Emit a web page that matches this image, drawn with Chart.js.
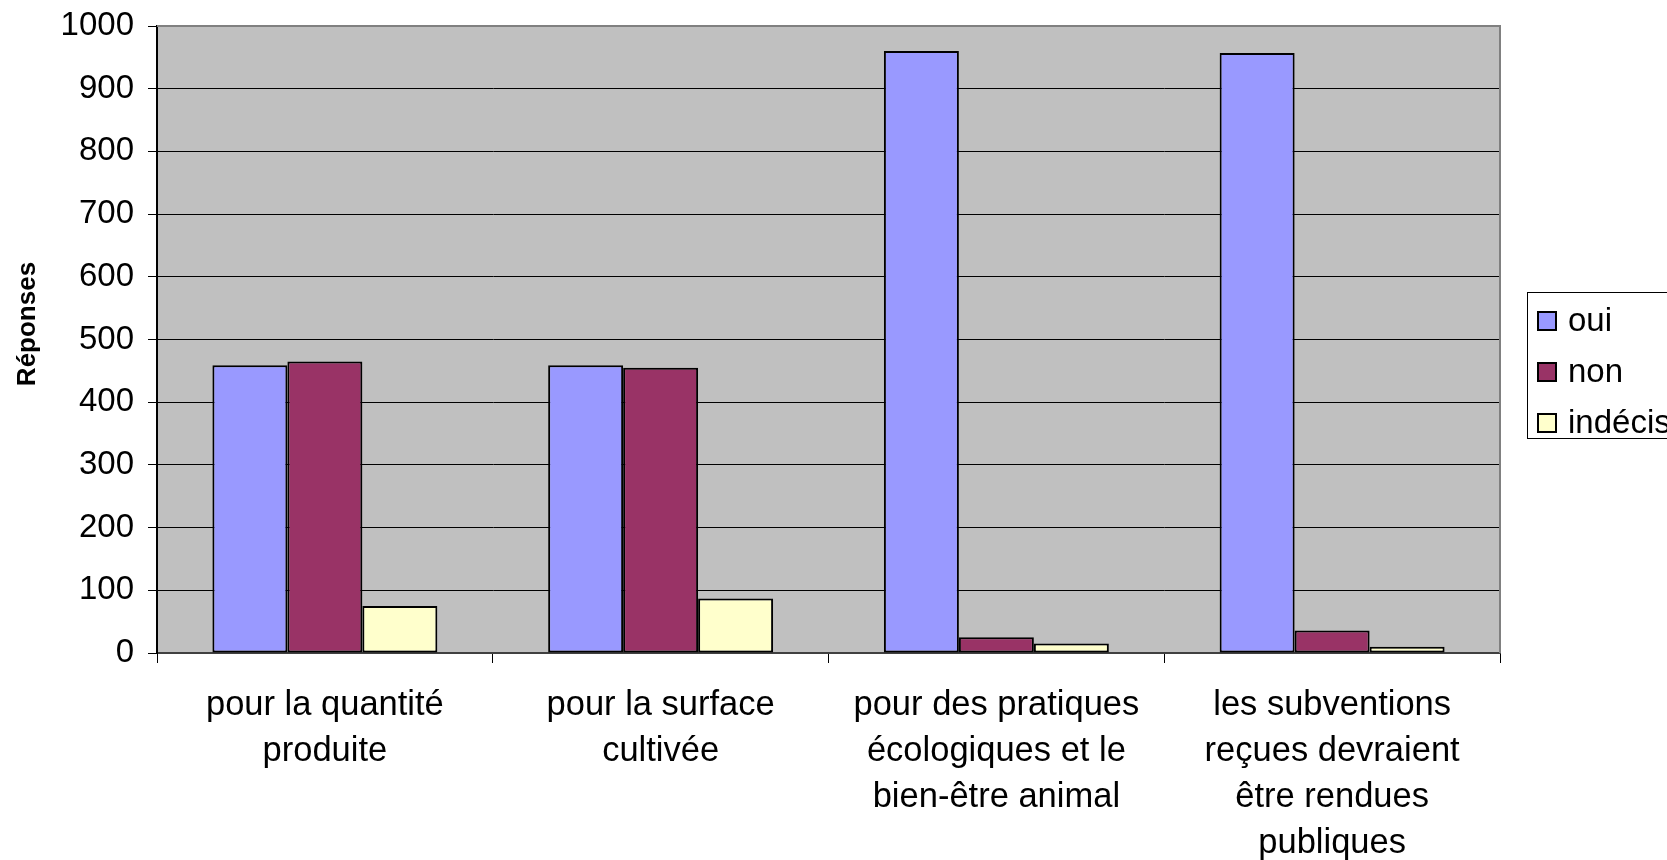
<!DOCTYPE html>
<html>
<head>
<meta charset="utf-8">
<script src="https://cdn.jsdelivr.net/npm/chart.js@4/dist/chart.umd.min.js"></script>
<style>
  html, body { margin: 0; padding: 0; background: #fff; }
  #wrap { width: 1667px; height: 860px; }
</style>
</head>
<body>
<div id="wrap"><canvas id="chart" width="1667" height="860"></canvas></div>
<script>
var categories = [
    ["pour la quantité", "produite"],
    ["pour la surface", "cultivée"],
    ["pour des pratiques", "écologiques et le", "bien-être animal"],
    ["les subventions", "reçues devraient", "être rendues", "publiques"]
];
var oui = [459, 459, 960, 957];
var non = [465, 455, 25, 36];
var indecis = [75, 87, 15, 10];
var yTicks = [0, 100, 200, 300, 400, 500, 600, 700, 800, 900, 1000];
var yTitle = 'Réponses';

var FONT = "'Liberation Sans', Arial, sans-serif";

// grey plot background + grey top/right frame like the original
var plotArea = {
    id: 'plotArea',
    beforeDraw: function (chart) {
        var a = chart.chartArea, c = chart.ctx;
        c.save();
        c.fillStyle = '#c0c0c0';
        c.fillRect(a.left, a.top, a.right - a.left, a.bottom - a.top);
        c.restore();
    },
    afterDatasetsDraw: function (chart) {
        var a = chart.chartArea, c = chart.ctx;
        c.save();
        c.strokeStyle = '#808080';
        c.lineWidth = 2;
        c.beginPath();
        c.moveTo(a.left, a.top);
        c.lineTo(a.right, a.top);
        c.lineTo(a.right, a.bottom);
        c.stroke();
        c.restore();
    }
};

// y title sits a bit above the middle of the plot in the original
var sideTitle = {
    id: 'sideTitle',
    afterDraw: function (chart) {
        var c = chart.ctx;
        c.save();
        c.translate(28, 324);
        c.rotate(-Math.PI / 2);
        c.font = 'bold 26px ' + FONT;
        c.textAlign = 'center';
        c.textBaseline = 'middle';
        c.fillStyle = '#000';
        c.fillText(yTitle, 0, 0);
        c.restore();
    }
};

// boxed legend on the right, partly cut off by the canvas edge
var boxLegend = {
    id: 'boxLegend',
    afterDraw: function (chart) {
        var c = chart.ctx;
        var x = 1527.5, y = 292.5, w = 170, h = 146;
        c.save();
        c.strokeStyle = '#000';
        c.lineWidth = 1;
        c.strokeRect(x, y, w, h);
        c.font = '33px ' + FONT;
        c.textBaseline = 'middle';
        chart.data.datasets.forEach(function (ds, i) {
            var cy = 321 + i * 51;
            c.fillStyle = ds.backgroundColor;
            c.fillRect(1538, cy - 9, 18, 18);
            c.lineWidth = 2;
            c.strokeStyle = '#000';
            c.strokeRect(1538, cy - 9, 18, 18);
            c.fillStyle = '#000';
            c.fillText(ds.label, 1568, cy + 1);
        });
        c.restore();
    }
};

new Chart(document.getElementById('chart').getContext('2d'), {
    type: 'bar',
    data: {
        labels: categories,
        datasets: [
            { label: 'oui', data: oui, backgroundColor: '#9999ff' },
            { label: 'non', data: non, backgroundColor: '#993366' },
            { label: 'indécis', data: indecis, backgroundColor: '#ffffcc' }
        ]
    },
    options: {
        responsive: false,
        animation: false,
        layout: { padding: { left: 0, right: 167, top: 26, bottom: 0 } },
        datasets: {
            bar: {
                categoryPercentage: 0.67,
                barPercentage: 1.0,
                borderColor: '#000',
                borderWidth: 2,
                borderSkipped: false
            }
        },
        plugins: {
            legend: { display: false },
            tooltip: { enabled: false }
        },
        scales: {
            x: {
                grid: {
                    offset: true,
                    drawOnChartArea: false,
                    color: '#000',
                    tickLength: 10,
                    lineWidth: 1
                },
                border: { color: '#404040', width: 2 },
                ticks: {
                    color: '#000',
                    maxRotation: 0,
                    autoSkip: false,
                    padding: 20,
                    font: { family: FONT, size: 34.5, lineHeight: 1.33 }
                },
                afterFit: function (s) {
                    s.height = 207;
                    s.paddingLeft = 0;
                    s.paddingRight = 0;
                }
            },
            y: {
                min: 0,
                max: 1000,
                afterBuildTicks: function (s) {
                    s.ticks = yTicks.map(function (v) { return { value: v }; });
                },
                grid: { color: '#000', lineWidth: 1, tickLength: 9 },
                border: { color: '#000', width: 2 },
                ticks: {
                    color: '#000',
                    padding: 14,
                    font: { family: FONT, size: 33 },
                    callback: function (v) { return String(v); }
                },
                afterFit: function (s) {
                    s.width = 157;
                    s.paddingTop = 0;
                    s.paddingBottom = 0;
                }
            }
        }
    },
    plugins: [plotArea, sideTitle, boxLegend]
});
</script>
</body>
</html>
